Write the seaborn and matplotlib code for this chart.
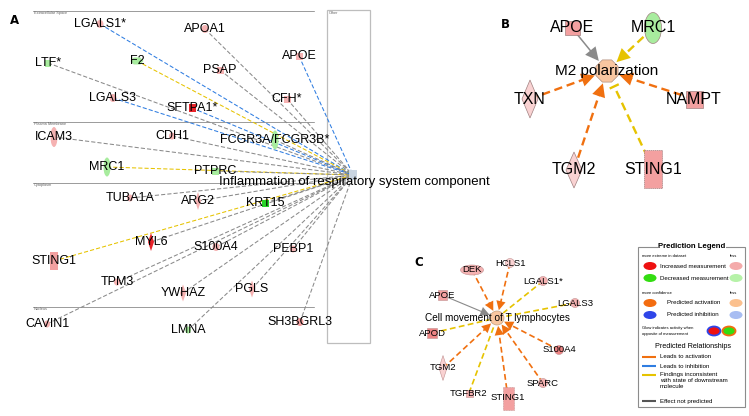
import numpy as np
import pandas as pd
import matplotlib
matplotlib.use('Agg')
import matplotlib.pyplot as plt
from matplotlib.patches import Ellipse, Rectangle, Polygon
import seaborn as sns

sns.set_theme(style='white')
plt.rcParams['font.family'] = ['Liberation Sans', 'DejaVu Sans']
plt.rcParams['text.color'] = 'black'

# ------------------------------------------------------------------ data
# Panel A : Inflammation of respiratory system component
a_hub = 'Inflammation of respiratory system component'
a_genes = ['LGALS1*', 'APOA1', 'LTF*', 'F2', 'APOE', 'PSAP', 'LGALS3', 'SFTPA1*',
           'CFH*', 'ICAM3', 'CDH1', 'FCGR3A/FCGR3B*', 'MRC1', 'PTPRC', 'TUBA1A',
           'ARG2', 'KRT15', 'MYL6', 'STING1', 'S100A4', 'PEBP1', 'TPM3', 'YWHAZ',
           'PGLS', 'CAVIN1', 'LMNA', 'SH3BGRL3']
a_state = ['up', 'up', 'down', 'down', 'up', 'up', 'up', 'UP',
           'up', 'up', 'up', 'down', 'down', 'down', 'up',
           'up', 'DOWN', 'UP', 'up2', 'up', 'up', 'up', 'up',
           'up', 'up', 'down', 'up2']
a_link = ['inhibit', 'none', 'none', 'inconsistent', 'inhibit', 'none', 'inhibit', 'inhibit',
          'none', 'none', 'none', 'none', 'inconsistent', 'none', 'none',
          'none', 'none', 'none', 'inconsistent', 'none', 'none', 'none', 'none',
          'none', 'none', 'none', 'none']
a_compartments = ['Extracellular Space', 'Plasma Membrane', 'Cytoplasm', 'Nucleus']

# Panel B : M2 polarization
b_hub = 'M2 polarization'
b_genes = ['APOE', 'MRC1', 'TXN', 'NAMPT', 'TGM2', 'STING1']
b_state = ['up2', 'down', 'up0', 'up2', 'up0', 'up2']
b_link = ['none', 'inconsistent', 'activate', 'activate', 'activate', 'inconsistent_bar']

# Panel C : Cell movement of T lymphocytes
c_hub = 'Cell movement of T lymphocytes'
c_genes = ['DEK', 'HCLS1', 'LGALS1*', 'APOE', 'LGALS3', 'APOD', 'S100A4',
           'TGM2', 'SPARC', 'TGFBR2', 'STING1']
c_state = ['up', 'up0', 'up', 'up2', 'up', 'up3', 'up3',
           'up0', 'up', 'up', 'up2']
c_link = ['activate', 'activate', 'inconsistent', 'none', 'inconsistent', 'inconsistent', 'activate',
          'activate', 'activate', 'inconsistent', 'activate']

# Legend
leg_measure = ['Increased measurement', 'Decreased measurement']
leg_predict = ['Predicted activation', 'Predicted inhibition']
leg_rel = ['Leads to activation', 'Leads to inhibition',
           'Findings inconsistent\nwith state of downstream\nmolecule', 'Effect not predicted']

# ------------------------------------------------------------------ styles
fill = {'up0': '#f9d2d2', 'up': '#f5b2b2', 'up2': '#f3a0a0', 'up3': '#ee8484',
        'UP': '#e8232a', 'down': '#a8ec9e', 'DOWN': '#28d428'}
link_col = {'inhibit': '#2f7de1', 'none': '#8a8a8a', 'inconsistent': '#e6c300',
            'inconsistent_bar': '#e6c300', 'activate': '#f07010'}

# layout (pixel positions) and shapes
a_layout = {
    'LGALS1*': (100, 24, 'circle', 7, 8), 'APOA1': (205, 29, 'circle', 7, 8),
    'LTF*': (48, 63, 'square', 6, 7), 'F2': (137, 61, 'hex', 13, 7),
    'APOE': (299, 56, 'square', 7, 7), 'PSAP': (220, 70, 'square', 7, 7),
    'LGALS3': (113, 98, 'circle', 7, 8), 'SFTPA1*': (192, 108, 'square', 7, 8),
    'CFH*': (287, 99, 'square', 7, 7), 'ICAM3': (54, 137, 'ellipse', 7, 20),
    'CDH1': (172, 136, 'circle', 6, 7), 'FCGR3A/FCGR3B*': (275, 140, 'ellipse', 7, 19),
    'MRC1': (107, 167, 'ellipse', 7, 19), 'PTPRC': (215, 171, 'square', 7, 7),
    'TUBA1A': (130, 198, 'circle', 6, 7), 'ARG2': (198, 201, 'diamond', 6, 18),
    'KRT15': (265, 203, 'square', 7, 7), 'MYL6': (151, 242, 'diamond', 6, 18),
    'STING1': (54, 261, 'square', 8, 18), 'S100A4': (216, 247, 'circle', 7, 8),
    'PEBP1': (293, 249, 'circle', 6, 7), 'TPM3': (117, 282, 'circle', 6, 7),
    'YWHAZ': (183, 293, 'diamond', 6, 17), 'PGLS': (252, 289, 'diamond', 6, 17),
    'CAVIN1': (47, 324, 'circle', 6, 7), 'LMNA': (188, 330, 'circle', 6, 7),
    'SH3BGRL3': (300, 322, 'circle', 7, 8)}
a_hub_xy = (353, 175)
comp_y = [11, 122, 183, 307]

b_layout = {
    'APOE': (572, 28, 'square', 15, 14), 'MRC1': (653, 28, 'ellipse', 17, 31),
    'TXN': (530, 99, 'diamond', 16, 38), 'NAMPT': (694, 99, 'square', 17, 17),
    'TGM2': (574, 170, 'diamond', 16, 36), 'STING1': (653, 169, 'square', 18, 38)}
b_hub_xy, b_hub_r = (607, 71), 12

c_layout = {
    'DEK': (472, 270, 'ellipse', 23, 10), 'HCLS1': (510, 263, 'circle', 9, 9),
    'LGALS1*': (543, 281, 'circle', 9, 9), 'APOE': (442, 295, 'square', 9, 10),
    'LGALS3': (575, 303, 'circle', 9, 9), 'APOD': (432, 333, 'square', 10, 10),
    'S100A4': (559, 350, 'circle', 9, 9), 'TGM2': (443, 368, 'diamond', 8, 25),
    'SPARC': (543, 383, 'circle', 9, 9), 'TGFBR2': (469, 393, 'square', 7, 7),
    'STING1': (508, 398, 'square', 11, 23)}
c_hub_xy, c_hub_r = (497, 318), 7


# ------------------------------------------------------------------ helpers
def node(ax, x, y, shape, w, h, fc, ec='none', lw=0.0, ls='-', z=3):
    if shape in ('circle', 'ellipse'):
        p = Ellipse((x, y), w, h)
    elif shape == 'square':
        p = Rectangle((x - w / 2, y - h / 2), w, h)
    elif shape == 'diamond':
        p = Polygon([(x, y - h / 2), (x + w / 2, y), (x, y + h / 2), (x - w / 2, y)])
    elif shape == 'hex':
        p = Polygon([(x - w / 2, y), (x - w / 4, y - h / 2), (x + w / 4, y - h / 2),
                     (x + w / 2, y), (x + w / 4, y + h / 2), (x - w / 4, y + h / 2)])
    elif shape == 'octagon':
        ang = np.deg2rad(22.5 + 45 * np.arange(8))
        p = Polygon(np.c_[x + w / 2 * np.cos(ang), y + h / 2 * np.sin(ang)])
    p.set_facecolor(fc)
    p.set_edgecolor(ec)
    p.set_linewidth(lw)
    p.set_linestyle(ls)
    p.set_zorder(z)
    ax.add_patch(p)


def edge(ax, p0, p1, kind, lw, r=0, hl=0.6, hw=0.3, dash=(0, (4, 2)), head=False, solid=False):
    col = link_col[kind]
    p0 = np.array(p0, float)
    p1 = np.array(p1, float)
    u = (p1 - p0) / np.hypot(*(p1 - p0))
    end = p1 - u * r
    ls = '-' if solid else dash
    if kind == 'inconsistent_bar':
        stop = p1 - u * (r + 5)
        ax.plot([p0[0], stop[0]], [p0[1], stop[1]], color=col, lw=lw, ls=ls, zorder=2)
        bar = p1 - u * (r + 4)
        n = np.array([-u[1], u[0]])
        b0, b1 = bar - n * 5, bar + n * 5
        ax.plot([b0[0], b1[0]], [b0[1], b1[1]], color=col, lw=lw, zorder=2,
                solid_capstyle='butt')
        return
    line_end = end - u * 3 if head else end
    ax.plot([p0[0], line_end[0]], [p0[1], line_end[1]], color=col, lw=lw, ls=ls, zorder=2)
    if head:
        ax.annotate('', xy=end, xytext=end - u * 12, zorder=2,
                    arrowprops=dict(arrowstyle=f'-|>,head_length={hl},head_width={hw}',
                                    color=col, lw=0.01, shrinkA=0, shrinkB=0))


# ------------------------------------------------------------------ figure
fig = plt.figure(figsize=(7.49, 4.16), dpi=100)
ax = fig.add_axes([0, 0, 1, 1])
ax.set_xlim(0, 749)
ax.set_ylim(416, 0)
ax.set_aspect('auto')
ax.axis('off')

# ---------------- Panel A
ax.text(14, 20, 'A', fontsize=8.5, fontweight='bold', ha='center', va='center',
        family=['DejaVu Sans'])
for yy, name in zip(comp_y, a_compartments):
    ax.plot([33, 314], [yy, yy], color='#9a9a9a', lw=0.7, zorder=1)
    ax.text(34, yy + 2.2, name, fontsize=2.8, color='#666666', ha='left', va='center')
ax.add_patch(Rectangle((327, 10), 43, 333, fill=False, ec='#bdbdbd', lw=0.9, zorder=1))
ax.text(329, 13, 'Other', fontsize=2.8, color='#666666', ha='left', va='center')

for g, st, lk in zip(a_genes, a_state, a_link):
    x, y, shp, w, h = a_layout[g]
    edge(ax, (x, y), a_hub_xy, lk, lw=0.75, dash=(0, (4, 2)))
    node(ax, x, y, shp, w, h, fill[st])
    ax.text(x, y, g, fontsize=9, ha='center', va='center', zorder=4)
node(ax, a_hub_xy[0], a_hub_xy[1], 'square', 8, 10, '#c9d5e2')
ax.text(354, 182, a_hub, fontsize=9.5, ha='center', va='center', zorder=4)

# ---------------- Panel B
ax.text(505, 25, 'B', fontsize=8.5, fontweight='bold', ha='center', va='center',
        family=['DejaVu Sans'])
for g, st, lk in zip(b_genes, b_state, b_link):
    x, y, shp, w, h = b_layout[g]
    if lk == 'none':
        edge(ax, (x, y), b_hub_xy, 'none', lw=1.1, r=b_hub_r + 1, hl=0.8, hw=0.4,
             head=True, solid=True)
    else:
        edge(ax, (x, y), b_hub_xy, lk, lw=1.7, r=b_hub_r + 1, hl=0.8, hw=0.4,
             dash=(0, (3.5, 2)), head=(lk != 'inconsistent_bar'))
    node(ax, x, y, shp, w, h, fill[st], ec='#a08080', lw=0.5,
         ls=(0, (2, 1)) if g == 'STING1' else '-')
    ax.text(x, y, g, fontsize=11.5, ha='center', va='center', zorder=4)
node(ax, b_hub_xy[0], b_hub_xy[1], 'octagon', 2 * b_hub_r, 2 * b_hub_r, '#f8c6a0',
     ec='#b09080', lw=0.5)
ax.text(607, 71, b_hub, fontsize=11, ha='center', va='center', zorder=4)

# ---------------- Panel C
ax.text(419, 262, 'C', fontsize=8.5, fontweight='bold', ha='center', va='center',
        family=['DejaVu Sans'])
for g, st, lk in zip(c_genes, c_state, c_link):
    x, y, shp, w, h = c_layout[g]
    if lk == 'none':
        edge(ax, (x, y), c_hub_xy, lk, lw=0.8, r=c_hub_r + 1, hl=0.55, hw=0.28,
             head=True, solid=True)
    else:
        edge(ax, (x, y), c_hub_xy, lk, lw=1.2, r=c_hub_r + 1, hl=0.55, hw=0.28,
             dash=(0, (3.5, 2)), head=(lk == 'activate'))
    node(ax, x, y, shp, w, h, fill[st], ec='#c09090', lw=0.4,
         ls=(0, (2, 1)) if g == 'STING1' else '-')
    ax.text(x, y, g, fontsize=6.8, ha='center', va='center', zorder=4)
node(ax, c_hub_xy[0], c_hub_xy[1], 'circle', 2 * c_hub_r, 2 * c_hub_r, '#f8c6a0',
     ec='#c0a080', lw=0.5)
ax.text(497, 318, c_hub, fontsize=7.2, ha='center', va='center', zorder=4)

# ---------------- Legend
ax.add_patch(Rectangle((638, 247), 107, 160, fill=False, ec='#8c8c8c', lw=0.8, zorder=1))
ax.text(692, 247, 'Prediction Legend', fontsize=5.6, fontweight='bold', ha='center',
        va='center', zorder=4, bbox=dict(fc='white', ec='none', pad=0.6))
fs = 4.4
ax.text(642, 256, 'more extreme in dataset', fontsize=3.0, ha='left', va='center')
ax.text(730, 256, 'less', fontsize=3.0, ha='left', va='center')
for yy, lab, c_hi, c_lo in zip([266, 278], leg_measure, ['#ee1111', '#33dd11'],
                               ['#f4aaaa', '#b6f2a8']):
    node(ax, 650, yy, 'circle', 13, 8, c_hi)
    node(ax, 736, yy, 'circle', 13, 8, c_lo)
    ax.text(660, yy, lab, fontsize=fs, ha='left', va='center')
ax.text(642, 293, 'more confidence', fontsize=3.0, ha='left', va='center')
ax.text(730, 293, 'less', fontsize=3.0, ha='left', va='center')
for yy, lab, c_hi, c_lo in zip([303, 315], leg_predict, ['#f36c10', '#2f45e8'],
                               ['#fbc08e', '#a8bdf2']):
    node(ax, 650, yy, 'circle', 13, 8, c_hi)
    node(ax, 736, yy, 'circle', 13, 8, c_lo)
    ax.text(667, yy, lab, fontsize=fs, ha='left', va='center')
ax.text(642, 328, 'Glow indicates activity when', fontsize=3.0, ha='left', va='center')
ax.text(642, 334, 'opposite of measurement', fontsize=3.0, ha='left', va='center')
node(ax, 714, 331, 'circle', 13, 9, '#ee1111', ec='#2f45e8', lw=1.3)
node(ax, 729, 331, 'circle', 13, 9, '#33dd11', ec='#f36c10', lw=1.3)
ax.text(693, 347, 'Predicted Relationships', fontsize=5.2, ha='center', va='center')
rel_y = [357, 366, 372, 401]
rel_kind = ['activate', 'inhibit', 'inconsistent', 'none']
for yy, lab, k in zip(rel_y, leg_rel, rel_kind):
    ly = yy + 3 if '\n' in lab else yy
    ax.plot([642, 656], [ly, ly], color='#555555' if k == 'none' else link_col[k],
            lw=1.5, solid_capstyle='butt')
    ax.text(660, yy, lab, fontsize=fs, ha='left', va='top' if '\n' in lab else 'center',
            linespacing=1.2)

fig.savefig('out.png', dpi=100)
